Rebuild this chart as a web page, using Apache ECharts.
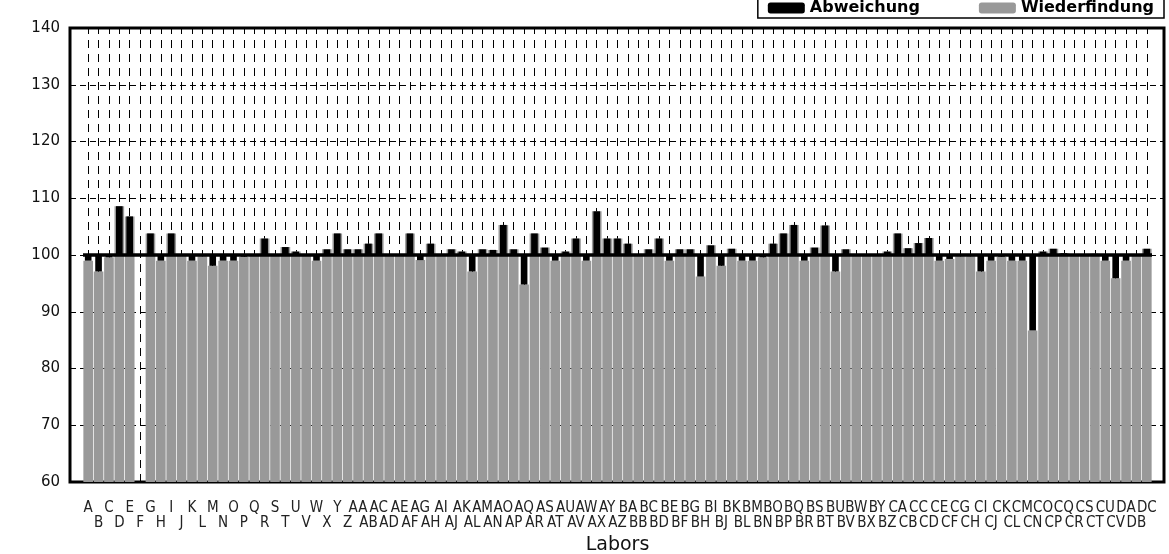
<!DOCTYPE html>
<html>
<head>
<meta charset="utf-8">
<script src="https://cdn.jsdelivr.net/npm/echarts@6/dist/echarts.min.js"></script>
<style>
html,body{margin:0;padding:0;background:#fff;}
#chart{width:1169px;height:554px;}
</style>
</head>
<body>
<div id="chart"></div>
<script>
const labs = ['A','B','C','D','E','F','G','H','I','J','K','L','M','N','O','P','Q','R','S','T','U','V','W','X','Y','Z',
 'AA','AB','AC','AD','AE','AF','AG','AH','AI','AJ','AK','AL','AM','AN','AO','AP','AQ','AR','AS','AT','AU','AV','AW','AX','AY','AZ',
 'BA','BB','BC','BD','BE','BF','BG','BH','BI','BJ','BK','BL','BM','BN','BO','BP','BQ','BR','BS','BT','BU','BV','BW','BX','BY','BZ',
 'CA','CB','CC','CD','CE','CF','CG','CH','CI','CJ','CK','CL','CM','CN','CO','CP','CQ','CR','CS','CT','CU','CV',
 'DA','DB','DC'];

const wiederfindung = [
 99.0, 97.1, 99.6, 108.6, 106.8, null, 103.8, 99.0, 103.8, 99.9,
 99.0, 99.8, 98.1, 99.0, 99.0, 99.7, 99.9, 102.9, 100.0, 101.4,
 100.6, 100.0, 99.0, 101.0, 103.8, 101.0,
 101.0, 102.0, 103.8, 100.0, 100.0, 103.8, 99.1, 102.0, 100.0, 101.0,
 100.6, 97.1, 101.0, 100.9, 105.3, 101.0, 94.8, 103.8, 101.3, 99.0,
 100.6, 102.9, 99.0, 107.7, 102.9, 102.9,
 102.0, 99.9, 101.0, 102.9, 99.0, 101.0, 101.0, 96.2, 101.7, 98.1,
 101.1, 99.0, 99.0, 99.6, 102.0, 103.8, 105.3, 99.0, 101.3, 105.2,
 97.1, 101.0, 100.0, 100.0, 100.0, 100.6,
 103.8, 101.2, 102.1, 103.0, 99.0, 99.3, 99.8, 99.8, 97.1, 99.0,
 99.7, 99.0, 99.0, 86.7, 100.6, 101.1, 100.3, 100.0, 100.0, 100.2,
 99.0, 95.9,
 99.0, 100.0, 101.1
];

const yTicks = { min: 60, max: 140, interval: 10 };
const reference = 100;

const base = wiederfindung.map(v => v == null ? null : Math.min(v, reference));
const abweichung = wiederfindung.map(v => v == null ? null : Math.abs(v - reference));

const chart = echarts.init(document.getElementById('chart'));
const font = 'DejaVu Sans, Liberation Sans, sans-serif';
const gridTop = 28, gridBottom = 72;

chart.setOption({
  animation: false,
  backgroundColor: '#fff',
  legend: {
    top: -4, right: 5,
    data: ['Abweichung', 'Wiederfindung'],
    borderColor: '#000', borderWidth: 1.5,
    padding: [4, 10, 2, 10],
    itemWidth: 37, itemHeight: 11, itemGap: 59,
    textStyle: { fontFamily: font, fontWeight: 'bold', fontSize: 16, color: '#000' }
  },
  grid: [
    { left: 70, right: 5, top: gridTop, bottom: gridBottom, show: true, borderColor: '#000', borderWidth: 3,
      backgroundColor: 'transparent', outerBoundsMode: 'none', containLabel: false },
    { left: 83, right: 17, top: gridTop, bottom: gridBottom, outerBoundsMode: 'none', containLabel: false }
  ],
  xAxis: [
    { type: 'value', gridIndex: 0, show: false, min: 0, max: 1 },
    { type: 'category', gridIndex: 1, data: labs,
      axisLine: { show: false }, axisTick: { show: false },
      axisLabel: { interval: 0, margin: 19, fontFamily: 'Liberation Sans Narrow, Arial Narrow, DejaVu Sans Condensed, sans-serif', fontSize: 15, color: '#222', lineHeight: 15,
        formatter: (v, i) => (i % 2 === 1 ? '\n' + v : v + '\n') },
      name: 'Labors', nameLocation: 'middle', nameGap: 46,
      nameTextStyle: { fontFamily: font, fontSize: 19, color: '#111' },
      splitLine: { show: false } },
    { type: 'category', gridIndex: 1, data: labs, show: false }
  ],
  yAxis: [
    { type: 'value', gridIndex: 0, min: yTicks.min, max: yTicks.max, interval: yTicks.interval,
      axisLine: { show: false }, axisTick: { show: false },
      axisLabel: { margin: 10, fontFamily: font, fontSize: 15, color: '#111' },
      splitLine: { show: true, lineStyle: { color: '#000', width: 1, type: [6, 4] } } },
    { type: 'value', gridIndex: 1, min: yTicks.min, max: yTicks.max, interval: yTicks.interval, show: false,
      splitLine: { show: false } }
  ],
  series: [
    { name: 'gridV', type: 'line', xAxisIndex: 1, yAxisIndex: 1, data: [], z: 1, silent: true,
      markLine: { silent: true, z: 1, symbol: ['none', 'none'], label: { show: false },
        lineStyle: { color: '#000', width: 1, type: [8, 6] },
        data: labs.map(c => ({ xAxis: c })) } },
    { name: 'Wiederfindung', type: 'bar', xAxisIndex: 1, yAxisIndex: 1, data: wiederfindung,
      barWidth: '93%', itemStyle: { color: '#999999' }, z: 2 },
    { name: 'base', type: 'bar', xAxisIndex: 2, yAxisIndex: 1, stack: 'dev', data: base,
      barWidth: '64%', itemStyle: { color: 'transparent' }, z: 3, silent: true },
    { name: 'Abweichung', type: 'bar', xAxisIndex: 2, yAxisIndex: 1, stack: 'dev', data: abweichung,
      barWidth: '64%', itemStyle: { color: '#000' }, z: 3,
      markLine: { silent: true, z: 5, symbol: ['none', 'none'], label: { show: false },
        lineStyle: { color: '#000', width: 3.5, type: 'solid' },
        data: [{ yAxis: reference }] } }
  ]
});
</script>
</body>
</html>
